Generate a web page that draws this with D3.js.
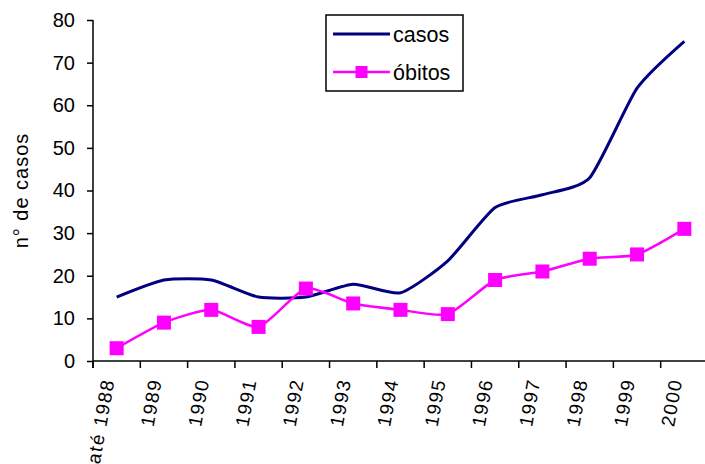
<!DOCTYPE html>
<html>
<head>
<meta charset="utf-8">
<script src="https://cdnjs.cloudflare.com/ajax/libs/d3/7.8.5/d3.min.js"></script>
<style>
  body { margin: 0; background: #fff; }
  svg { display: block; }
  text { font-family: "Liberation Sans", Arial, sans-serif; fill: #000; }
</style>
</head>
<body>
<div id="chart"></div>
<script>
// data
var anos = ["até 1988", "1989", "1990", "1991", "1992", "1993", "1994",
            "1995", "1996", "1997", "1998", "1999", "2000"];
var casos = [15, 19, 19, 15, 15, 18, 16, 23.5, 36, 39, 43, 64, 75];
var obitos = [3, 9, 12, 8, 17, 13.5, 12, 11, 19, 21, 24, 25, 31];
var yTicks = [0, 10, 20, 30, 40, 50, 60, 70, 80];

var w = 705, h = 464;
var plotLeft = 93, plotTop = 20, plotBottom = 361, plotRight = 708;
var fontSize = 20;

var svg = d3.select('#chart')
  .append('svg')
  .attr('width', w)
  .attr('height', h);

var x = d3.scaleBand()
  .domain(anos)
  .range([plotLeft, plotRight])
  .padding(0);

var y = d3.scaleLinear()
  .domain([0, 80])
  .range([plotBottom, plotTop]);

function cx(d, i) { return x(anos[i]) + x.bandwidth() / 2; }

//y axis
var yAxis = svg.append("g")
  .attr("transform", "translate(" + plotLeft + ",0)")
  .call(d3.axisLeft(y).tickValues(yTicks).tickSize(6).tickSizeOuter(0).tickPadding(12));
yAxis.select(".domain").attr("stroke", "#000").attr("stroke-width", 1.5)
  .attr("d", "M0," + plotTop + "V" + (plotBottom + 7));
yAxis.selectAll(".tick line").attr("stroke", "#000").attr("stroke-width", 1.5);
yAxis.selectAll(".tick text")
  .style("font-size", fontSize + "px")
  .style("font-family", "Liberation Sans, Arial, sans-serif");

//x axis, ticks on category boundaries
var xAxis = svg.append("g")
  .attr("transform", "translate(0," + plotBottom + ")")
  .call(d3.axisBottom(x).tickSize(7).tickSizeOuter(0).tickPadding(0));
xAxis.select(".domain").attr("stroke", "#000").attr("stroke-width", 1.5)
  .attr("d", "M" + plotLeft + ",0H" + w);
xAxis.selectAll(".tick line")
  .attr("stroke", "#000").attr("stroke-width", 1.5)
  .attr("transform", "translate(" + (-x.step() / 2) + ",0)");
xAxis.selectAll(".tick text")
  .attr("y", 0)
  .attr("dy", null)
  .attr("text-anchor", "end")
  .attr("transform", "translate(-2,19) rotate(-80)")
  .style("font-size", "19px")
  .style("letter-spacing", "1.5px")
  .style("font-family", "Liberation Sans, Arial, sans-serif");

//y axis title
svg.append("text")
  .attr("transform", "translate(28," + ((plotTop + plotBottom) / 2) + ") rotate(-90)")
  .attr("text-anchor", "middle")
  .style("font-size", fontSize + "px")
  .style("letter-spacing", "1px")
  .text("n° de casos");

var line = d3.line()
  .x(cx)
  .y(function (d) { return y(d); })
  .curve(d3.curveCardinal.tension(0.4));

// casos
svg.append("path")
  .datum(casos)
  .attr("d", line)
  .attr("fill", "none")
  .attr("stroke", "#000080")
  .attr("stroke-width", 3);

// obitos
svg.append("path")
  .datum(obitos)
  .attr("d", line)
  .attr("fill", "none")
  .attr("stroke", "#ff00ff")
  .attr("stroke-width", 2.5);

var markerSize = 14;
svg.selectAll("rect.marker")
  .data(obitos)
  .enter()
  .append("rect")
  .attr("class", "marker")
  .attr("x", function (d, i) { return cx(d, i) - markerSize / 2; })
  .attr("y", function (d) { return y(d) - markerSize / 2; })
  .attr("width", markerSize)
  .attr("height", markerSize)
  .attr("fill", "#ff00ff");

//legend
var legend = svg.append("g").attr("transform", "translate(326,15)");
legend.append("rect")
  .attr("x", 0).attr("y", 0)
  .attr("width", 137).attr("height", 76)
  .attr("fill", "#fff")
  .attr("stroke", "#000")
  .attr("stroke-width", 1.5);

var legendItems = [
  {name: "casos", color: "#000080", width: 3, marker: false},
  {name: "óbitos", color: "#ff00ff", width: 2.5, marker: true}
];
var items = legend.selectAll("g.item")
  .data(legendItems)
  .enter()
  .append("g")
  .attr("class", "item")
  .attr("transform", function (d, i) { return "translate(0," + (19 + i * 38) + ")"; });
items.append("line")
  .attr("x1", 7).attr("x2", 64)
  .attr("stroke", function (d) { return d.color; })
  .attr("stroke-width", function (d) { return d.width; });
items.filter(function (d) { return d.marker; })
  .append("rect")
  .attr("x", 35.5 - 6).attr("y", -6)
  .attr("width", 12).attr("height", 12)
  .attr("fill", function (d) { return d.color; });
items.append("text")
  .attr("x", 67)
  .attr("dy", "0.35em")
  .style("font-size", "21.5px")
  .text(function (d) { return d.name; });
</script>
</body>
</html>
